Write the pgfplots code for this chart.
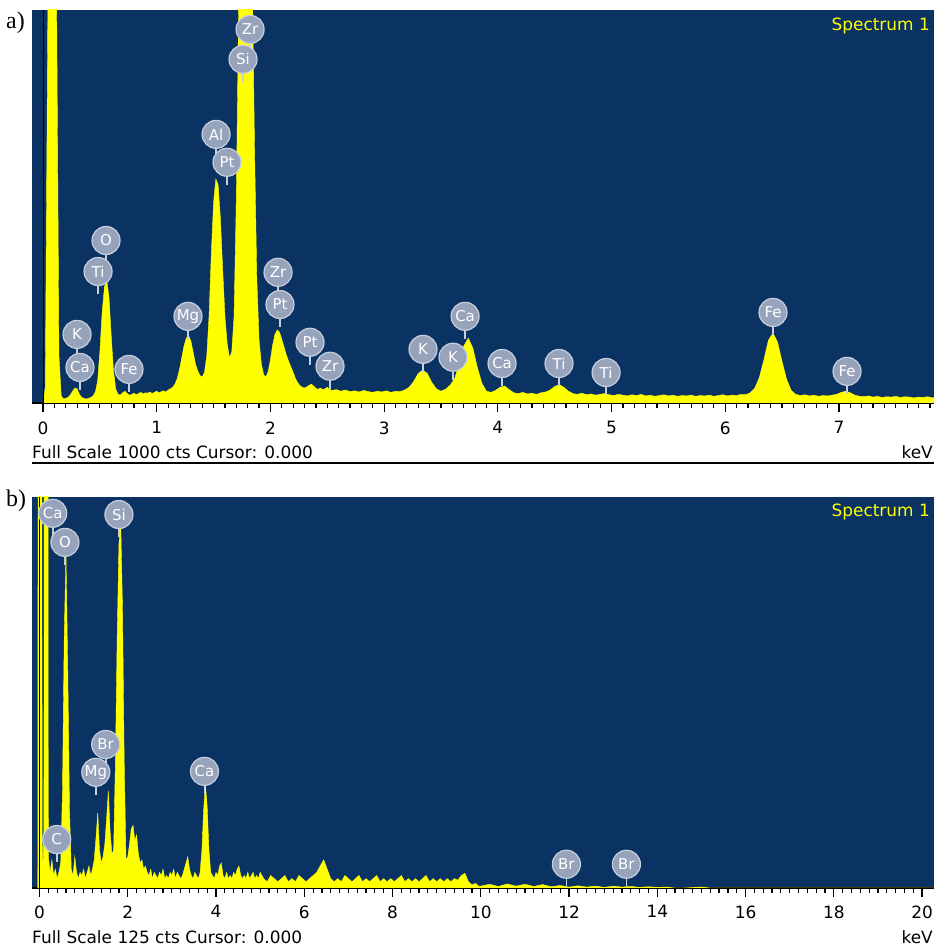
\documentclass[border=0pt]{standalone}
\usepackage{pgfplots}
\pgfplotsset{compat=1.18}
\usepackage{pgfplotstable}
\usepackage{fontspec}
\setmainfont{DejaVu Sans}
\newfontfamily\serifpanel{Liberation Serif}
\definecolor{bgblue}{RGB}{10,50,98}
\definecolor{specyellow}{RGB}{255,255,0}
\definecolor{labfill}{RGB}{150,163,186}
\definecolor{labrim}{RGB}{198,207,222}

\pgfplotstableread{
x y
0.00 0
0.02 40
0.04 900
0.06 1800
0.08 2200
0.10 2000
0.12 1000
0.14 120
0.16 18
0.18 10
0.20 12
0.22 14
0.24 20
0.26 30
0.28 38
0.30 36
0.32 22
0.34 14
0.36 12
0.38 10
0.40 12
0.42 14
0.44 18
0.46 28
0.48 55
0.50 130
0.52 230
0.54 295
0.56 312
0.58 270
0.60 170
0.62 80
0.64 35
0.66 22
0.68 20
0.70 26
0.72 30
0.74 24
0.76 20
0.78 22
0.80 25
0.82 21
0.84 24
0.86 27
0.88 23
0.90 26
0.92 25
0.94 28
0.96 24
0.98 27
1.00 30
1.02 26
1.04 29
1.06 31
1.08 28
1.10 33
1.12 36
1.14 40
1.16 48
1.18 62
1.20 85
1.22 115
1.24 145
1.26 165
1.28 172
1.30 158
1.32 130
1.34 100
1.36 82
1.38 70
1.40 66
1.42 78
1.44 120
1.46 220
1.48 380
1.50 510
1.52 570
1.54 555
1.56 470
1.58 340
1.60 220
1.62 150
1.64 115
1.66 130
1.68 220
1.70 520
1.72 1000
1.74 1500
1.76 1700
1.78 1750
1.80 1700
1.82 1500
1.84 1100
1.86 650
1.88 320
1.90 160
1.92 100
1.94 72
1.96 66
1.98 80
2.00 110
2.02 148
2.04 175
2.06 186
2.08 180
2.10 162
2.12 142
2.14 122
2.16 106
2.18 92
2.20 78
2.22 62
2.24 52
2.26 44
2.28 40
2.30 38
2.32 41
2.34 45
2.36 48
2.38 43
2.40 37
2.42 35
2.44 38
2.46 34
2.48 36
2.50 40
2.52 35
2.54 32
2.58 34
2.62 30
2.66 33
2.70 29
2.74 31
2.78 28
2.82 32
2.86 29
2.90 27
2.94 30
2.98 28
3.02 31
3.06 27
3.10 30
3.14 29
3.18 33
3.22 40
3.26 55
3.30 75
3.34 84
3.38 75
3.42 52
3.46 36
3.50 30
3.54 35
3.58 45
3.62 62
3.66 100
3.70 145
3.74 165
3.78 140
3.82 90
3.86 50
3.90 30
3.94 27
3.98 32
4.02 40
4.06 43
4.10 34
4.14 26
4.18 24
4.22 27
4.26 23
4.30 25
4.34 22
4.38 26
4.42 28
4.46 33
4.50 42
4.54 47
4.58 40
4.62 30
4.66 24
4.70 22
4.74 25
4.78 21
4.82 23
4.86 20
4.90 22
4.94 24
4.98 21
5.02 19
5.06 22
5.10 20
5.14 18
5.18 21
5.22 19
5.26 22
5.30 18
5.34 20
5.38 17
5.42 19
5.46 21
5.50 18
5.54 20
5.58 17
5.62 19
5.66 18
5.70 20
5.74 17
5.78 19
5.82 18
5.86 20
5.90 17
5.94 19
5.98 21
6.02 18
6.06 20
6.10 19
6.14 22
6.18 21
6.22 26
6.26 38
6.30 65
6.34 110
6.38 160
6.42 178
6.46 155
6.50 105
6.54 60
6.58 32
6.62 22
6.66 19
6.70 21
6.74 18
6.78 20
6.82 17
6.86 19
6.90 18
6.94 20
6.98 22
7.02 27
7.06 30
7.10 26
7.14 20
7.18 17
7.22 16
7.26 18
7.30 15
7.34 17
7.38 14
7.42 16
7.46 15
7.50 17
7.54 14
7.58 16
7.62 15
7.66 13
7.70 15
7.74 14
7.78 16
7.82 13
7.86 15
}\specA

\pgfplotstableread{
x y lab
1.821 949 Zr
1.759 873 Si
1.522 682 Al
1.618 611 Pt
0.554 412 O
0.484 333 Ti
0.299 173 K
0.325 89 Ca
0.756 84 Fe
1.275 219 Mg
2.067 331 Zr
2.084 249 Pt
2.348 153 Pt
2.524 92 Zr
3.342 135 K
3.606 115 K
3.712 219 Ca
4.037 99 Ca
4.538 99 Ti
4.952 76 Ti
6.420 229 Fe
7.071 79 Fe
}\labA

\pgfplotstableread{
x y
-0.04 0
-0.02 400
0.04 400
0.06 15
0.08 6
0.10 20
0.12 400
0.18 400
0.20 10
0.24 5
0.28 9
0.32 4
0.36 6
0.40 3
0.44 5
0.48 8
0.52 30
0.56 80
0.60 107
0.64 70
0.68 25
0.72 6
0.76 4
0.80 10
0.84 5
0.88 3
0.92 5
0.96 4
1.00 6
1.04 3
1.08 5
1.12 7
1.16 4
1.20 6
1.24 9
1.28 16
1.32 24
1.36 12
1.40 8
1.44 10
1.48 14
1.52 22
1.56 31
1.60 18
1.64 11
1.68 12
1.72 40
1.76 80
1.80 110
1.84 117
1.88 90
1.92 40
1.96 9
2.00 10
2.04 14
2.08 19
2.12 20
2.16 15
2.20 17
2.24 11
2.28 8
2.32 9
2.36 6
2.40 7
2.44 5
2.48 4
2.52 6
2.56 3
2.60 5
2.64 4
2.68 3
2.72 5
2.76 4
2.80 6
2.84 3
2.88 4
2.92 3
2.96 5
3.00 4
3.04 6
3.08 3
3.12 5
3.16 4
3.20 3
3.24 4
3.28 6
3.32 8
3.36 10
3.40 6
3.44 4
3.48 3
3.52 5
3.56 4
3.60 3
3.64 5
3.68 12
3.72 25
3.76 33
3.80 26
3.84 12
3.88 5
3.92 4
3.96 3
4.00 5
4.04 4
4.08 7
4.12 8
4.16 4
4.20 3
4.24 5
4.28 3
4.32 4
4.36 3
4.40 5
4.44 4
4.48 6
4.52 7
4.56 4
4.60 3
4.64 4
4.68 3
4.72 5
4.76 3
4.80 4
4.84 5
4.88 3
4.92 4
4.96 3
5.00 5
5.08 3
5.16 2
5.24 4
5.32 3
5.40 2
5.48 3
5.56 4
5.64 2
5.72 3
5.80 2
5.88 4
5.96 3
6.04 2
6.12 3
6.20 4
6.28 5
6.36 7
6.44 9
6.52 6
6.60 3
6.68 2
6.76 3
6.84 2
6.92 4
7.00 3
7.08 2
7.16 3
7.24 4
7.32 2
7.40 3
7.48 2
7.56 3
7.64 4
7.72 2
7.80 3
7.88 2
7.96 3
8.04 2
8.12 3
8.20 4
8.28 2
8.36 3
8.44 2
8.52 3
8.60 2
8.68 3
8.76 4
8.84 2
8.92 3
9.00 2
9.08 3
9.16 2
9.24 3
9.32 2
9.40 3
9.48 2.5
9.56 4
9.64 4.7
9.72 2
9.80 1
9.88 1.5
9.96 0.5
10.2 1.2
10.4 0.5
10.6 1.3
10.8 0.6
11.0 1.2
11.2 0.5
11.4 1.1
11.6 0.4
11.8 0.8
12.0 0.3
12.2 0.7
12.4 0.3
12.6 0.6
12.8 0.2
13.0 0.6
13.2 0.3
13.4 0.5
13.6 0.2
13.8 0.4
14.0 0.2
14.2 0.3
14.4 0
14.6 0
15.0 0.3
15.2 0
20.3 0
}\specB

\pgfplotstableread{
x y lab
0.30 119.6 Ca
0.576 110.3 O
1.80 119.2 Si
1.50 45.7 Br
1.276 36.8 Mg
3.738 37.1 Ca
0.39 15.3 C
11.94 7.4 Br
13.30 7.4 Br
}\labB

\pgfplotsset{
  eds/.style={
    scale only axis, width=902bp, anchor=south west,
    axis background/.style={fill=bgblue},
    axis x line*=bottom, axis y line=none,
    ytick=\empty,
    enlargelimits=false,
    ymin=0,
    x axis line style={black, line width=1.5bp},
    tick align=outside,
    major tick length=9bp, minor tick length=5bp,
    every tick/.style={black, line width=1.2bp},
    minor x tick num=9,
    xticklabel style={font=\fontsize{17}{17}\selectfont, yshift=-6bp},
    clip mode=individual,
  },
  spec/.style={fill=specyellow, draw=specyellow, line width=0.4bp},
  stems/.style={draw=none, mark=none, nodes near coords={\hbox{}},
    every node near coord/.style={rectangle, fill=labrim, draw=none,
      minimum width=1.8bp, minimum height=8bp, inner sep=0pt, yshift=-22bp}},
  elems/.style={draw=none, mark=none, nodes near coords, point meta=explicit symbolic,
    every node near coord/.style={circle, fill=labfill, draw=labrim, line width=1.2bp,
      minimum size=28bp, inner sep=0pt, text=white,
      font=\fontsize{15}{15}\selectfont, yshift=-14bp}},
}

\begin{document}
\begin{tikzpicture}
\useasboundingbox (0,0) rectangle (934bp,947bp);
% panel a
\begin{axis}[eds, at={(32bp,544bp)}, height=393bp,
  xmin=-0.097, xmax=7.836, ymax=1000,
  xtick={0,1,2,3,4,5,6,7,8}, xticklabels={0,1,2,3,4,5,6,7,8}]
\addplot[spec] table[x=x,y=y] {\specA} \closedcycle;
\addplot[black, line width=0.8bp] coordinates {(0,0) (0,1000)};
\addplot[stems] table[x=x,y=y] {\labA};
\addplot[elems] table[x=x,y=y,meta=lab] {\labA};
\end{axis}
% panel b
\begin{axis}[eds, at={(32bp,59bp)}, height=391bp,
  xmin=-0.17, xmax=20.27, ymax=125,
  xtick={0,2,4,6,8,10,12,14,16,18,20}, xticklabels={0,2,4,6,8,10,12,14,16,18,20},
  xticklabel style={yshift=1bp}]
\addplot[spec] table[x=x,y=y] {\specB} \closedcycle;
\addplot[black, line width=0.8bp] coordinates {(0,0) (0,125)};
\addplot[stems] table[x=x,y=y] {\labB};
\addplot[elems] table[x=x,y=y,meta=lab] {\labB};
\end{axis}
% captions and status lines
\node[anchor=base east, inner sep=0pt, text=specyellow, font=\fontsize{17}{17}\selectfont] at (930bp,916bp) {Spectrum 1};
\node[anchor=base east, inner sep=0pt, text=specyellow, font=\fontsize{17}{17}\selectfont] at (930bp,430bp) {Spectrum 1};
\node[anchor=base west, inner sep=0pt, font=\fontsize{17}{17}\selectfont] at (32bp,488bp) {Full Scale 1000 cts Cursor: 0.000};
\node[anchor=base east, inner sep=0pt, font=\fontsize{17}{17}\selectfont] at (933bp,488bp) {keV};
\node[anchor=base west, inner sep=0pt, font=\fontsize{17}{17}\selectfont] at (32bp,4bp) {Full Scale 125 cts Cursor: 0.000};
\node[anchor=base east, inner sep=0pt, font=\fontsize{17}{17}\selectfont] at (933bp,4bp) {keV};
\draw[black, line width=2bp] (32bp,484bp) -- (934bp,484bp);
\node[anchor=base west, inner sep=0pt, font=\serifpanel\fontsize{24}{24}\selectfont] at (6bp,918bp) {a)};
\node[anchor=base west, inner sep=0pt, font=\serifpanel\fontsize{24}{24}\selectfont] at (6bp,440bp) {b)};
\end{tikzpicture}
\end{document}
